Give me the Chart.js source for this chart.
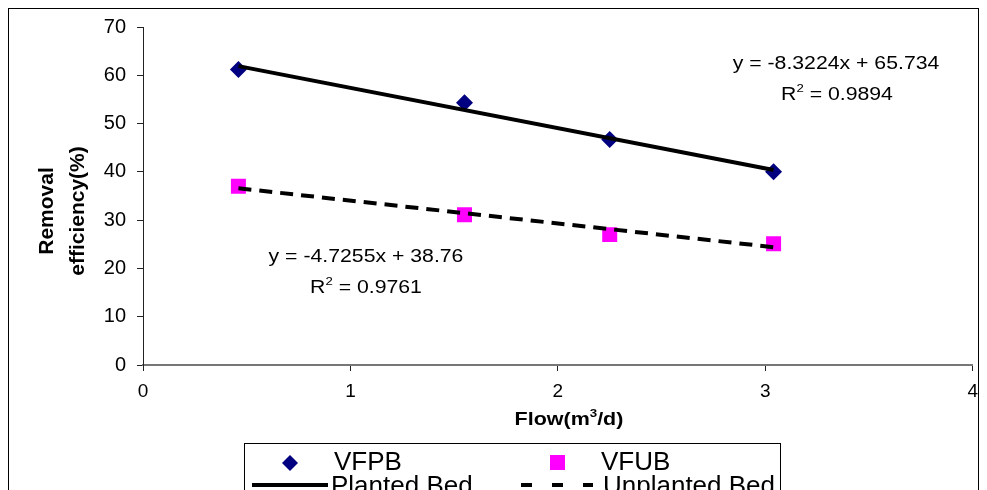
<!DOCTYPE html>
<html><head><meta charset="utf-8">
<script src="https://cdn.jsdelivr.net/npm/chart.js@4.4.0/dist/chart.umd.min.js"></script>
<style>html,body{margin:0;padding:0;background:#fff;overflow:hidden}canvas{display:block}</style>
</head><body>
<canvas id="c" width="987" height="490"></canvas>
<script>
// ---- data ----
const flows = [0.46, 1.55, 2.25, 3.04];
const vfpb = [61.2, 54.3, 46.7, 40.0];
const vfub = [37.0, 31.1, 27.0, 25.1];
const trendFlows = [0.46, 3.04];
const plantedTrend = [61.9, 40.4];
const unplantedTrend = [36.6, 24.4];
const xAxisRange = [0, 4, 1];
const yAxisRange = [0, 70, 10];
const seriesLabels = ['VFPB', 'VFUB', 'Planted Bed', 'Unplanted Bed'];
const eqPlanted = ['y = -8.3224x + 65.734', ' = 0.9894'];
const eqUnplanted = ['y = -4.7255x + 38.76', ' = 0.9761'];
const xTitle = ['Flow(m', '3', '/d)'];
const yTitle = ['Removal', 'efficiency(%)'];

const FONT = '"Liberation Sans", Arial, sans-serif';
Chart.defaults.font.family = FONT;
Chart.defaults.color = '#000';

function pts(xs, ys) { return xs.map((x, i) => ({x: x, y: ys[i]})); }

function drawRich(ctx, parts, cx, base, size, bold, sx) {
  const f = (s) => (bold ? 'bold ' : '') + s + 'px ' + FONT;
  let w = 0;
  parts.forEach(p => { ctx.font = f(p.sup ? size * 0.62 : size); w += ctx.measureText(p.t).width; });
  ctx.save();
  ctx.translate(cx, base);
  ctx.scale(sx, 1);
  let x = -w / 2;
  ctx.textAlign = 'left';
  ctx.textBaseline = 'alphabetic';
  ctx.fillStyle = '#000';
  parts.forEach(p => {
    ctx.font = f(p.sup ? size * 0.62 : size);
    ctx.fillText(p.t, x, p.sup ? -size * 0.42 : 0);
    x += ctx.measureText(p.t).width;
  });
  ctx.restore();
}

const decor = {
  id: 'decor',
  beforeDraw(chart) {
    const ctx = chart.ctx;
    ctx.save();
    ctx.fillStyle = '#fff';
    ctx.fillRect(0, 0, chart.width, chart.height);
    ctx.strokeStyle = '#000';
    ctx.lineWidth = 1;
    ctx.strokeRect(8.5, 8.5, 970, 500);
    ctx.restore();
  },
  afterDraw(chart) {
    const ctx = chart.ctx;
    // axis titles
    drawRich(ctx, [{t: xTitle[0]}, {t: xTitle[1], sup: true}, {t: xTitle[2]}], 569, 425, 19, true, 1.13);
    ctx.save();
    ctx.translate(0, 211);
    ctx.rotate(-Math.PI / 2);
    ctx.font = 'bold 21px ' + FONT;
    ctx.textAlign = 'center';
    ctx.textBaseline = 'middle';
    ctx.fillStyle = '#000';
    ctx.fillText(yTitle[0], 0, 47);
    ctx.fillText(yTitle[1], 0, 78);
    ctx.restore();
    // equations
    drawRich(ctx, [{t: eqPlanted[0]}], 836, 69, 18, false, 1.18);
    drawRich(ctx, [{t: 'R'}, {t: '2', sup: true}, {t: eqPlanted[1]}], 837, 100, 18, false, 1.18);
    drawRich(ctx, [{t: eqUnplanted[0]}], 366, 262, 18, false, 1.18);
    drawRich(ctx, [{t: 'R'}, {t: '2', sup: true}, {t: eqUnplanted[1]}], 366, 293, 18, false, 1.18);
    // legend
    ctx.save();
    ctx.strokeStyle = '#000';
    ctx.lineWidth = 1;
    ctx.strokeRect(244.5, 443.5, 536, 80);
    const ds = chart.data.datasets;
    ctx.fillStyle = ds[0].backgroundColor;
    ctx.beginPath();
    ctx.moveTo(282, 463); ctx.lineTo(290, 455); ctx.lineTo(298, 463); ctx.lineTo(290, 471); ctx.closePath();
    ctx.fill();
    ctx.fillStyle = ds[1].backgroundColor;
    ctx.fillRect(550, 455, 15, 15);
    ctx.strokeStyle = ds[2].borderColor;
    ctx.lineWidth = 4;
    ctx.beginPath(); ctx.moveTo(252, 485); ctx.lineTo(328, 485); ctx.stroke();
    ctx.setLineDash([11, 20]);
    ctx.beginPath(); ctx.moveTo(521, 485); ctx.lineTo(593, 485); ctx.stroke();
    ctx.setLineDash([]);
    ctx.fillStyle = '#000';
    ctx.font = '26px ' + FONT;
    ctx.textAlign = 'left';
    ctx.textBaseline = 'alphabetic';
    ctx.fillText(ds[0].label, 334, 470);
    ctx.fillText(ds[1].label, 601, 470);
    ctx.fillText(ds[2].label, 331, 494);
    ctx.fillText(ds[3].label, 603, 494);
    ctx.restore();
  }
};

new Chart(document.getElementById('c'), {
  type: 'scatter',
  data: {
    datasets: [
      {label: seriesLabels[0], data: pts(flows, vfpb), pointStyle: 'rectRot', pointRadius: 8.5, pointHoverRadius: 8.5,
       backgroundColor: '#000080', borderColor: '#000080', borderWidth: 0, order: 2},
      {label: seriesLabels[1], data: pts(flows, vfub), pointStyle: 'rect', pointRadius: 10.6, pointHoverRadius: 10.6,
       backgroundColor: '#FF00FF', borderColor: '#FF00FF', borderWidth: 0, order: 2},
      {label: seriesLabels[2], type: 'line', data: pts(trendFlows, plantedTrend), borderColor: '#000', borderWidth: 4,
       pointRadius: 0, fill: false, order: 0},
      {label: seriesLabels[3], type: 'line', data: pts(trendFlows, unplantedTrend), borderColor: '#000', borderWidth: 4,
       borderDash: [13, 8], pointRadius: 0, fill: false, order: 0}
    ]
  },
  options: {
    responsive: false,
    animation: false,
    devicePixelRatio: 1,
    layout: {padding: {left: 0, top: 27, right: 14, bottom: 0}},
    plugins: {legend: {display: false}, tooltip: {enabled: false}},
    scales: {
      x: {
        type: 'linear', min: xAxisRange[0], max: xAxisRange[1],
        ticks: {stepSize: xAxisRange[2], font: {size: 19}, color: '#000', padding: 9},
        grid: {drawOnChartArea: false, drawTicks: true, tickLength: 6, color: '#222', tickColor: '#222'},
        border: {display: true, color: '#777', width: 2},
        afterFit(s) { s.height = 125; }
      },
      y: {
        type: 'linear', min: yAxisRange[0], max: yAxisRange[1],
        ticks: {stepSize: yAxisRange[2], font: {size: 20}, color: '#000', padding: 11},
        grid: {drawOnChartArea: false, drawTicks: true, tickLength: 6, color: '#222', tickColor: '#222'},
        border: {display: true, color: '#222', width: 1},
        afterFit(s) { s.width = 143; }
      }
    }
  },
  plugins: [decor]
});
</script>
</body></html>
